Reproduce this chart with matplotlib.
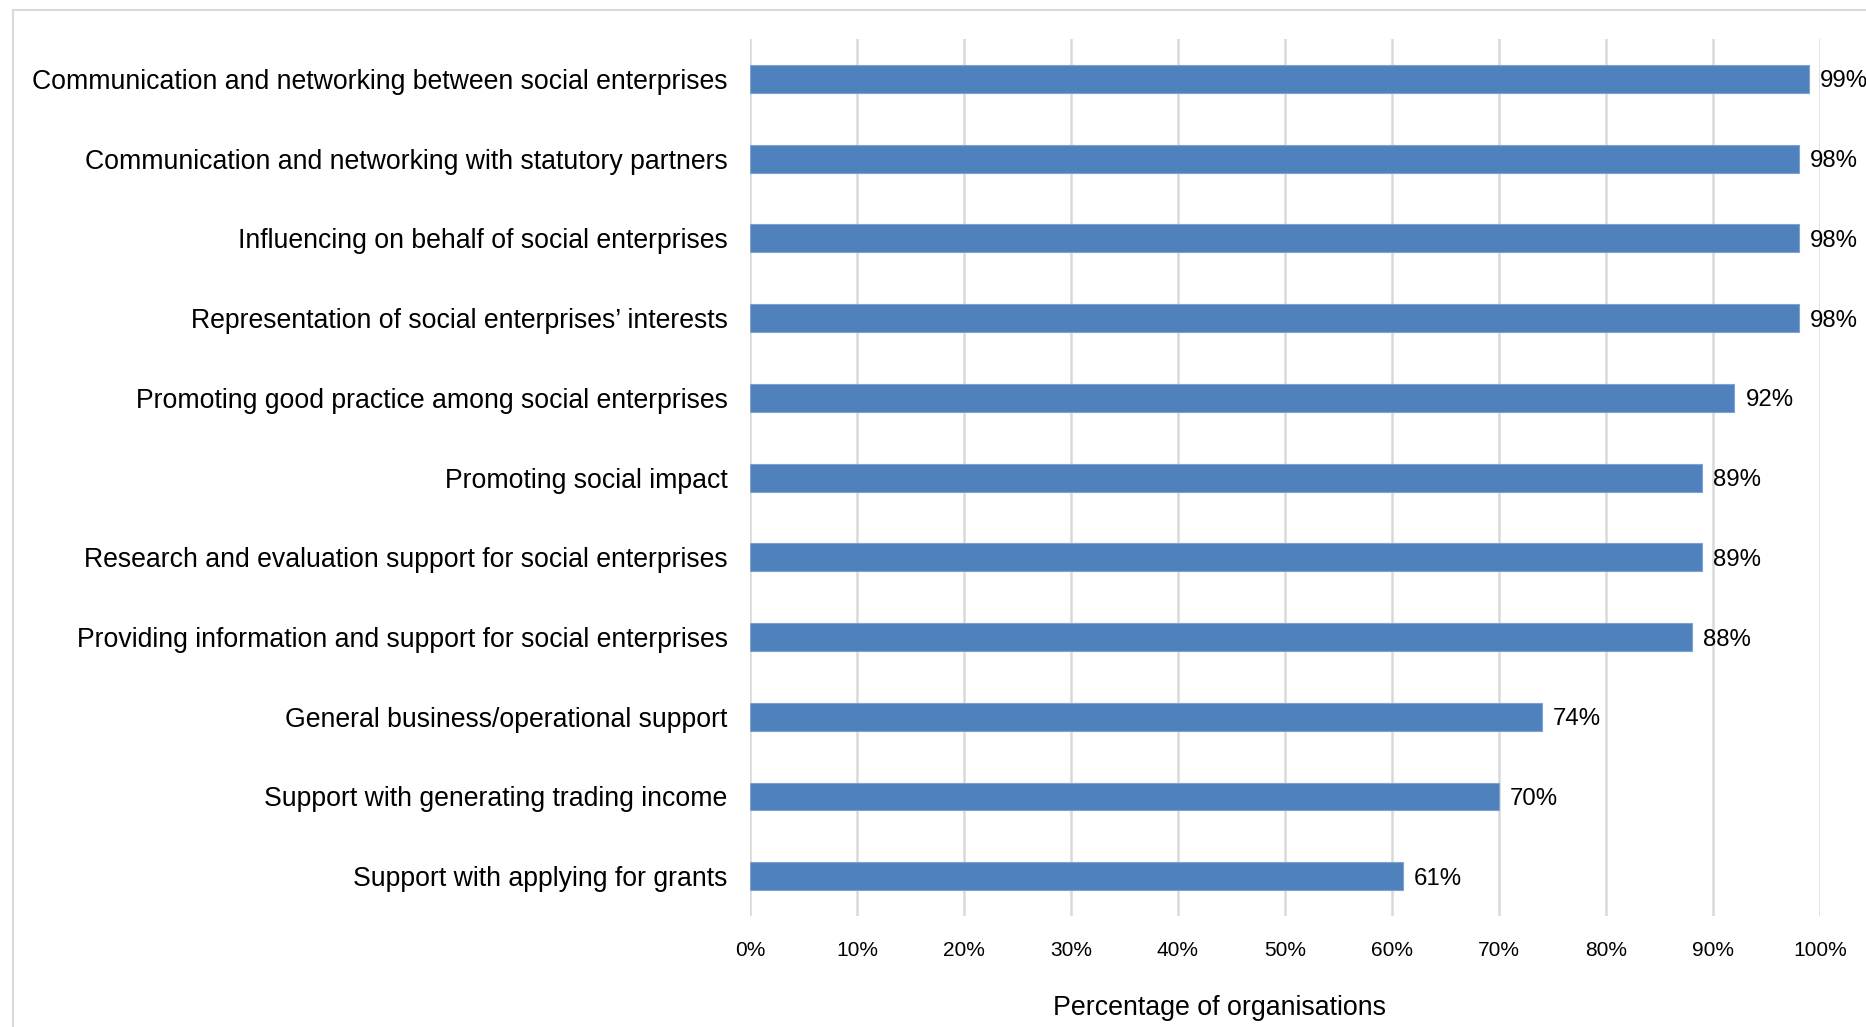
import matplotlib.pyplot as plt
from matplotlib.patches import Rectangle
from matplotlib.ticker import PercentFormatter

# Attivita svolte dalle organisazioni (percentuali)
categories = [
    "Communication and networking between social enterprises",
    "Communication and networking with statutory partners",
    "Influencing on behalf of social enterprises",
    "Representation of social enterprises\u2019 interests",
    "Promoting good practice among social enterprises",
    "Promoting social impact",
    "Research and evaluation support for social enterprises",
    "Providing information and support for social enterprises",
    "General business/operational support",
    "Support with generating trading income",
    "Support with applying for grants",
]
values = [99, 98, 98, 98, 92, 89, 89, 88, 74, 70, 61]
x_ticks = list(range(0, 101, 10))

label_font = ["Liberation Sans", "DejaVu Sans"]
narrow_font = ["Liberation Sans Narrow", "Liberation Sans", "DejaVu Sans"]

fig = plt.figure(figsize=(18.66, 10.27), dpi=100)
ax = fig.add_axes([0.4019, 0.108, 0.5734, 0.854])

pos = list(range(len(categories)))
ax.barh(pos, values, height=0.35, color="#4F81BD", edgecolor="#7EA3D3",
        linewidth=0.8, zorder=3)

for p, v in zip(pos, values):
    ax.annotate(f"{v}%", xy=(v, p), xytext=(8, 0), textcoords="offset points",
                va="center_baseline", ha="left", fontsize=17.3,
                family=label_font, annotation_clip=False, clip_on=False)

ax.set_xlim(0, 100)
ax.set_ylim(len(categories) - 0.5, -0.5)
ax.set_xticks(x_ticks)
ax.xaxis.set_major_formatter(PercentFormatter(decimals=0))
ax.set_yticks(pos)
ax.set_yticklabels(categories, fontsize=19.2, family=label_font,
                   va="center_baseline")
for lbl in ax.get_xticklabels():
    lbl.set_family(narrow_font)
    lbl.set_fontsize(15)

ax.grid(axis="x", color="#D9D9D9", linewidth=1.8, zorder=0)
ax.tick_params(axis="both", length=0)
ax.tick_params(axis="x", pad=18)
ax.tick_params(axis="y", pad=16)
for s in ax.spines.values():
    s.set_visible(False)

ax.set_xlabel("Percentage of organisations", fontsize=19.3, family=narrow_font)
ax.xaxis.set_label_coords(0.439, -0.09)

# cornice esterna grigia
fig.patches.append(Rectangle((13 / 1866, -0.1), 1.2, 1 - 9.5 / 1027 + 0.1,
                             transform=fig.transFigure, fill=False,
                             edgecolor="#D9D9D9", linewidth=1.5))

fig.savefig("out.png", dpi=100)
